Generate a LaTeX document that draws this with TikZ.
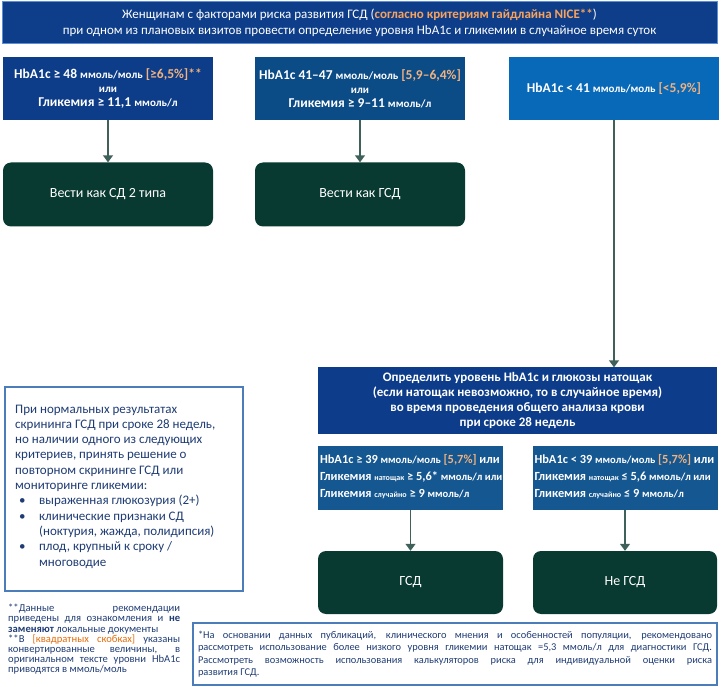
\documentclass[tikz,border=0pt]{standalone}
\usepackage{fontspec}
\setmainfont{Carlito}
\usetikzlibrary{arrows.meta,calc}
\definecolor{topblue}{HTML}{0E3E8A}
\definecolor{topborder}{HTML}{5E8FD6}
\definecolor{boxA}{HTML}{0D3C88}
\definecolor{boxB}{HTML}{0B4B86}
\definecolor{boxC}{HTML}{0869B8}
\definecolor{boxD}{HTML}{0D3D8A}
\definecolor{boxE}{HTML}{155791}
\definecolor{dgreen}{HTML}{083A31}
\definecolor{arrowc}{HTML}{3F615A}
\definecolor{brk}{HTML}{F2B27F}
\definecolor{nice}{HTML}{F7A25E}
\definecolor{navy}{HTML}{1F3C74}
\definecolor{noteborder}{HTML}{4A7DBA}
\definecolor{fnorange}{HTML}{E36C0A}
\newcommand\smallu[1]{{\fontsize{11}{14}\selectfont #1}}
\newcommand\smallv[1]{{\fontsize{10.6}{14}\selectfont #1}}
\newcommand\tinyu[1]{{\fontsize{8}{14}\selectfont #1}}
\begin{document}
\begin{tikzpicture}[x=1pt,y=-1pt,
  cond/.style={fill=#1, draw=none, minimum width=210pt, minimum height=63pt, text=white, align=center, inner sep=2pt, font=\bfseries\fontsize{13.5}{14}\selectfont},
  lowbox/.style={fill=boxE, draw=none, minimum width=185pt, minimum height=64pt},
  lowtext/.style={anchor=west, text=white, align=left, inner sep=0pt, font=\bfseries\fontsize{12.4}{17}\selectfont},
  greenbox/.style={fill=dgreen, draw=none, rounded corners=8pt, minimum width=#1, minimum height=64pt, text=white, align=center, font=\fontsize{14}{16}\selectfont},
  arr/.style={draw=arrowc, line width=1.5pt, -{Triangle[width=10pt,length=7pt]}},
  notebox/.style={draw=noteborder, line width=1.5pt, fill=white}
]
\useasboundingbox (0,0) rectangle (721,687);

% top box
\node[fill=topblue, draw=topborder, line width=1pt, minimum width=715pt, minimum height=42pt, text=white, align=center, inner sep=1pt, font=\fontsize{13}{16}\selectfont] (top) at (359.5,23)
 {Женщинам с факторами риска развития ГСД (\textcolor{nice}{\textbf{согласно критериям гайдлайна NICE**}})\\
  при одном из плановых визитов провести определение уровня HbA1c и гликемии в случайное время суток};

% condition boxes
\node[cond=boxA] (c1) at (108,88.5)
 {HbA1c ≥ 48 \smallu{ммоль/моль} \textcolor{brk}{[≥6,5\%]**}\\ \smallu{или}\\ Гликемия ≥ 11,1 \smallu{ммоль/л}};
\node[cond=boxB] (c2) at (360,88.5)
 {HbA1c 41–47 \smallu{ммоль/моль} \textcolor{brk}{[5,9–6,4\%]}\\ \smallu{или}\\ Гликемия ≥ 9–11 \smallu{ммоль/л}};
\node[cond=boxC] (c3) at (614,88.5)
 {HbA1c < 41 \smallu{ммоль/моль} \textcolor{brk}{[<5,9\%]}};

% green boxes top
\node[greenbox=210pt] (g1) at (108,194.5) {Вести как СД 2 типа};
\node[greenbox=210pt] (g2) at (360,194.5) {Вести как ГСД};

% determine box
\node[fill=boxD, minimum width=399pt, minimum height=66pt, text=white, align=center, inner sep=1pt, font=\bfseries\fontsize{13}{15}\selectfont] (det) at (517.5,400.5)
 {Определить уровень HbA1c и глюкозы натощак\\
  (если натощак невозможно, то в случайное время)\\
  во время проведения общего анализа крови\\
  при сроке 28 недель};

% lower condition boxes
\node[lowbox] (l1) at (410.5,478) {};
\node[lowtext] (l1t) at ([xshift=2pt,yshift=1pt]l1.west)
 {HbA1c ≥ 39 \smallv{ммоль/моль} \textcolor{brk}{[5,7\%]} или\\
  Гликемия \tinyu{натощак} ≥ 5,6* \smallv{ммоль/л или}\\
  Гликемия \tinyu{случайно} ≥ 9 \smallv{ммоль/л}};
\node[lowbox] (l2) at (625,478) {};
\node[lowtext] (l2t) at ([xshift=2pt,yshift=1pt]l2.west)
 {HbA1c < 39 \smallv{ммоль/моль} \textcolor{brk}{[5,7\%]} или\\
  Гликемия \tinyu{натощак} ≤ 5,6 \smallv{ммоль/л или}\\
  Гликемия \tinyu{случайно} ≤ 9 \smallv{ммоль/л}};

% green boxes bottom
\node[greenbox=185pt, minimum height=63pt] (gg1) at (410.5,582.5) {ГСД};
\node[greenbox=184pt, minimum height=63pt] (gg2) at (625,582.5) {Не ГСД};

% arrows
\draw[arr] (c1.south) -- (g1.north);
\draw[arr] (c2.south) -- (g2.north);
\draw[arr] (c3.south) -- (c3.south |- det.north);
\draw[arr] (l1.south) -- (gg1.north);
\draw[arr] (l2.south) -- (gg2.north);

% note box
\node[notebox, minimum width=238pt, minimum height=204pt] (note) at (124,489) {};
\node[anchor=base west, text=navy, align=left, inner sep=0pt, font=\fontsize{13}{15.3}\selectfont] (notetext) at (15,566)
 {При нормальных результатах\\
  скрининга ГСД при сроке 28 недель,\\
  но наличии одного из следующих\\
  критериев, принять решение о\\
  повторном скрининге ГСД или\\
  мониторинге гликемии:\\
  \hspace*{4pt}\makebox[20pt][l]{•}выраженная глюкозурия (2+)\\
  \hspace*{4pt}\makebox[20pt][l]{•}клинические признаки СД\\
  \hspace*{24pt}(ноктурия, жажда, полидипсия)\\
  \hspace*{4pt}\makebox[20pt][l]{•}плод, крупный к сроку /\\
  \hspace*{24pt}многоводие};

% left footnotes
\node[anchor=north west, text=navy, text width=172pt, align=justify, inner sep=0pt, font=\fontsize{10.6}{10.2}\selectfont] (fnleft) at (8,604)
 {**Данные рекомендации\linebreak приведены для ознакомления и \textbf{не}\linebreak \textbf{заменяют} локальные документы\\
  ***В \textcolor{fnorange}{[квадратных скобках]} указаны\linebreak конвертированные величины, в\linebreak оригинальном тексте уровни HbA1c\linebreak приводятся в ммоль/моль};

% footnote box
\node[draw=noteborder, line width=1.5pt, minimum width=524pt, minimum height=62pt, text width=514pt, inner xsep=5pt, align=justify, text=navy, font=\fontsize{10.4}{12.5}\selectfont] (fn) at (455,654)
 {*На основании данных публикаций, клинического мнения и особенностей популяции, рекомендовано\linebreak рассмотреть использование более низкого уровня гликемии натощак =5,3 ммоль/л для диагностики ГСД.\linebreak Рассмотреть возможность использования калькуляторов риска для индивидуальной оценки риска\linebreak развития ГСД.};
\end{tikzpicture}
\end{document}
